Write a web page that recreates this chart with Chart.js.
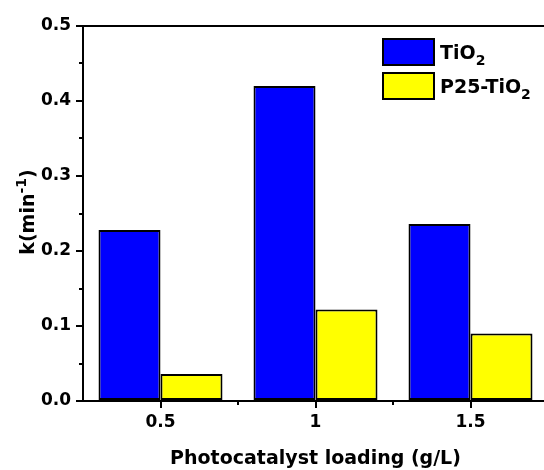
<!DOCTYPE html>
<html>
<head>
<meta charset="utf-8">
<script src="https://cdn.jsdelivr.net/npm/chart.js@4/dist/chart.umd.min.js"></script>
<style>
    html, body { margin: 0; padding: 0; background: #fff; overflow: hidden; }
    #grafico { display: block; }
</style>
</head>
<body>
<canvas id="grafico" width="560" height="470"></canvas>
<script>
var cargas = ['0.5', '1', '1.5']
var k_tio2 = [0.228, 0.42, 0.236]
var k_p25 = [0.036, 0.122, 0.09]
var nomes_series = ['TiO_2', 'P25-TiO_2']
var cores_series = ['#0000ff', '#ffff00']
var titulo_x = 'Photocatalyst loading (g/L)'
var titulo_y = [{ t: 'k(min' }, { t: '-1', sup: true }, { t: ')' }]

var fonte = 'DejaVu Sans'

// turns 'TiO_2' into pieces, the part after _ goes as subscript
function partesNome(nome) {
    var p = nome.split('_')
    var partes = [{ t: p[0] }]
    if (p[1]) partes.push({ t: p[1], sub: true })
    return partes
}

// draws text made of normal / sub / sup pieces starting at x (left aligned)
function textoMisto(ctx, partes, x, y, tam) {
    var larg = 0
    for (let i = 0; i < partes.length; i++) {
        var pt = partes[i]
        var t = (pt.sub || pt.sup) ? Math.round(tam * 0.72) : tam
        ctx.font = 'bold ' + t + 'px "' + fonte + '"'
        var dy = pt.sub ? tam * 0.3 : (pt.sup ? -tam * 0.4 : 0)
        ctx.fillText(pt.t, x + larg, y + dy)
        larg += ctx.measureText(pt.t).width
    }
    return larg
}

function larguraMista(ctx, partes, tam) {
    var larg = 0
    for (let i = 0; i < partes.length; i++) {
        var pt = partes[i]
        var t = (pt.sub || pt.sup) ? Math.round(tam * 0.72) : tam
        ctx.font = 'bold ' + t + 'px "' + fonte + '"'
        larg += ctx.measureText(pt.t).width
    }
    return larg
}

var extras = {
    id: 'extras',
    afterDraw(chart) {
        var ctx = chart.ctx
        var area = chart.chartArea
        var x = chart.scales.x
        var y = chart.scales.y

        ctx.save()
        ctx.strokeStyle = '#000'
        ctx.lineWidth = 2

        // frame on top and right
        ctx.beginPath()
        ctx.moveTo(area.left - 1, area.top)
        ctx.lineTo(area.right, area.top)
        ctx.lineTo(area.right, area.bottom)
        ctx.stroke()

        // minor ticks
        for (let i = 0; i < 5; i++) {
            var py = Math.round(y.getPixelForValue(0.05 + i * 0.1))
            ctx.beginPath()
            ctx.moveTo(area.left - 4, py)
            ctx.lineTo(area.left, py)
            ctx.stroke()
        }
        for (let i = 0; i < cargas.length - 1; i++) {
            var px = Math.round((x.getPixelForValue(i) + x.getPixelForValue(i + 1)) / 2)
            ctx.beginPath()
            ctx.moveTo(px, area.bottom)
            ctx.lineTo(px, area.bottom + 4)
            ctx.stroke()
        }

        // y axis title, rotated
        ctx.fillStyle = '#000'
        ctx.textBaseline = 'alphabetic'
        ctx.textAlign = 'left'
        ctx.save()
        ctx.translate(34, 212)
        ctx.rotate(-Math.PI / 2)
        var w = larguraMista(ctx, titulo_y, 19)
        textoMisto(ctx, titulo_y, -w / 2, 0, 19)
        ctx.restore()

        // legend
        var ds = chart.data.datasets
        for (let i = 0; i < ds.length; i++) {
            var ly = 39 + i * 34
            ctx.fillStyle = ds[i].backgroundColor
            ctx.fillRect(383, ly, 51, 26)
            ctx.strokeRect(383, ly, 51, 26)
            ctx.fillStyle = '#000'
            textoMisto(ctx, partesNome(nomes_series[i]), 440, ly + 20, 19)
        }
        ctx.restore()
    }
}

var ctx = document.getElementById('grafico').getContext('2d')
var fonteTick = { family: fonte, size: 17, weight: 'bold' }

var grafico = new Chart(ctx, {
    type: 'bar',
    data: {
        labels: cargas,
        datasets: [{
            label: 'TiO₂',
            data: k_tio2,
            backgroundColor: cores_series[0],
            borderColor: '#000',
            borderWidth: 2,
            borderSkipped: false,
            categoryPercentage: 0.8,
            barPercentage: 1.0
        }, {
            label: 'P25-TiO₂',
            data: k_p25,
            backgroundColor: cores_series[1],
            borderColor: '#000',
            borderWidth: 2,
            borderSkipped: false,
            categoryPercentage: 0.8,
            barPercentage: 1.0
        }]
    },
    options: {
        responsive: false,
        animation: false,
        layout: { padding: { left: 0, right: 12, top: 26, bottom: 0 } },
        plugins: {
            legend: { display: false },
            tooltip: { enabled: false }
        },
        scales: {
            x: {
                offset: true,
                grid: { offset: false, drawOnChartArea: false, tickLength: 7, color: '#000', lineWidth: 2 },
                border: { color: '#000', width: 2 },
                ticks: { color: '#000', font: fonteTick, padding: 4 },
                title: {
                    display: true,
                    text: titulo_x,
                    color: '#000',
                    font: { family: fonte, size: 19, weight: 'bold' },
                    padding: { top: 0, bottom: 0 }
                },
                afterFit(s) { s.height = 69 }
            },
            y: {
                min: 0,
                max: 0.5,
                grid: { drawOnChartArea: false, tickLength: 7, color: '#000', lineWidth: 2 },
                border: { color: '#000', width: 2 },
                ticks: {
                    stepSize: 0.1,
                    color: '#000',
                    font: fonteTick,
                    padding: 5,
                    callback: (v) => Number(v).toFixed(1)
                },
                afterFit(s) { s.width = 83 }
            }
        }
    },
    plugins: [extras]
})
</script>
</body>
</html>
